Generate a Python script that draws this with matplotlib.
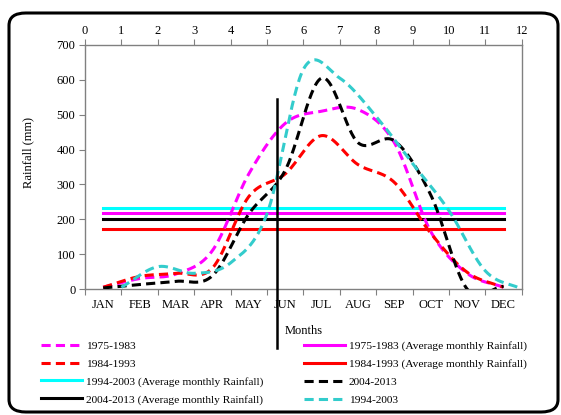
"""
plot.py -- monthly rainfall by decade, smoothed Excel-style lines.
"""

import numpy as np
import matplotlib
matplotlib.use("Agg")
import matplotlib.pyplot as plt
from matplotlib.patches import FancyBboxPatch
from matplotlib.lines import Line2D

plt.rcParams["font.family"] = ["Liberation Serif", "DejaVu Serif"]

# -----------------------------------------------------------------------------
# Data
# -----------------------------------------------------------------------------
months = ["JAN", "FEB", "MAR", "APR", "MAY", "JUN",
          "JUL", "AUG", "SEP", "OCT", "NOV", "DEC"]

rain_1975_1983 = [5, 30, 43, 110, 330, 475, 510, 515, 420, 165, 45, 5]
rain_1984_1993 = [5, 36, 45, 60, 265, 330, 440, 357, 306, 160, 48, 5]
rain_2004_2013 = [3, 13, 22, 38, 215, 340, 605, 420, 425, 270, 0, 8]

# 1994-2003 sits on the secondary (top) axis, at positions 1..12
teal_pos = [1, 2, 3, 4, 5, 6, 7, 8, 9, 10, 11, 12]
rain_1994_2003 = [5, 64, 45, 75, 215, 630, 605, 495, 360, 225, 52, 0]

avg_1975_1983 = 218
avg_1984_1993 = 173
avg_1994_2003 = 233
avg_2004_2013 = 201

divider_x = 5.28
divider_span = (-168, 545)

top_ticks = list(range(13))
y_ticks = [0, 100, 200, 300, 400, 500, 600, 700]

W, H, DPI = 561, 415, 100

MAGENTA = "#FF00FF"
RED = "#FF0000"
CYAN = "#00FFFF"
TEAL = "#33CCCC"
DASH = (0, (3, 1.7))


def smooth(x, y, n=30):
    """Catmull-Rom style smoothing, like Excel's 'smoothed line'."""
    x = np.asarray(x, float)
    y = np.asarray(y, float)
    m = np.empty_like(y)
    m[1:-1] = (y[2:] - y[:-2]) / 2
    m[0] = y[1] - y[0]
    m[-1] = y[-1] - y[-2]
    xs, ys = [], []
    t = np.linspace(0, 1, n)
    h00 = 2 * t**3 - 3 * t**2 + 1
    h10 = t**3 - 2 * t**2 + t
    h01 = -2 * t**3 + 3 * t**2
    h11 = t**3 - t**2
    for i in range(len(x) - 1):
        xs.append(x[i] + t * (x[i + 1] - x[i]))
        ys.append(h00 * y[i] + h10 * m[i] + h01 * y[i + 1] + h11 * m[i + 1])
    return np.concatenate(xs), np.concatenate(ys)


fig = plt.figure(figsize=(W / DPI, H / DPI), dpi=DPI)
ax = fig.add_axes([85 / W, 1 - 289 / H, 436.7 / W, 244 / H])

cat_x = np.arange(len(months)) + 0.5
lw = 2.2

for vals, col in [(rain_1975_1983, MAGENTA), (rain_1984_1993, RED),
                  (rain_2004_2013, "black")]:
    sx, sy = smooth(cat_x, vals)
    ax.plot(sx, sy, color=col, lw=lw, ls=DASH, zorder=3)

for val, col in [(avg_1994_2003, CYAN), (avg_1975_1983, MAGENTA),
                 (avg_2004_2013, "black"), (avg_1984_1993, RED)]:
    ax.plot([cat_x[0], cat_x[-1]], [val, val], color=col, lw=lw, zorder=2)

ax.set_xlim(0, 12)
ax.set_ylim(0, 700)
ax.set_xticks(np.arange(13))
ax.set_xticklabels([])
ax.set_xticks(cat_x, minor=True)
ax.set_xticklabels(months, minor=True)
ax.tick_params(axis="x", which="major", length=4, color="#808080", direction="out")
ax.tick_params(axis="x", which="minor", length=0, pad=7, labelsize=9)
ax.set_yticks(y_ticks)
ax.tick_params(axis="y", length=4, color="#808080", labelsize=9, pad=3)
ax.set_xlabel("Months", fontsize=9, labelpad=10)
ax.set_ylabel("Rainfall (mm)", fontsize=9)
ax.yaxis.set_label_coords(-0.117, 0.56)
for sp in ax.spines.values():
    sp.set_color("#808080")
    sp.set_linewidth(1.0)

# secondary x axis (top) carrying the 1994-2003 series
ax2 = ax.twiny()
ax2.set_xlim(0, 12)
ax2.set_ylim(0, 700)
ax2.set_xticks(top_ticks)
ax2.tick_params(axis="x", length=4, color="#808080", labelsize=9, pad=2)
for sp in ax2.spines.values():
    sp.set_visible(False)
sx, sy = smooth(teal_pos, rain_1994_2003)
ax2.plot(sx, sy, color=TEAL, lw=lw, ls=DASH, zorder=3)

ax2.plot([divider_x, divider_x], divider_span, color="black", lw=1.8,
         clip_on=False, zorder=5)

# legend, two columns placed like the Excel one
def handle(col, dashed):
    return Line2D([], [], color=col, lw=lw, ls=DASH if dashed else "-")

left_items = [(handle(MAGENTA, True), "1975-1983"),
              (handle(RED, True), "1984-1993"),
              (handle(CYAN, False), "1994-2003 (Average monthly Rainfall)"),
              (handle("black", False), "2004-2013 (Average monthly Rainfall)")]
right_items = [(handle(MAGENTA, False), "1975-1983 (Average monthly Rainfall)"),
               (handle(RED, False), "1984-1993 (Average monthly Rainfall)"),
               (handle("black", True), "2004-2013"),
               (handle(TEAL, True), "1994-2003")]

for items, x0 in [(left_items, 41), (right_items, 304)]:
    leg = fig.legend([h for h, _ in items], [t for _, t in items],
                     loc="upper left", bbox_to_anchor=(x0 / W, 1 - 341 / H),
                     frameon=False, fontsize=8.2, handlelength=3.6,
                     handletextpad=0.35, labelspacing=0.68,
                     borderaxespad=0, borderpad=0)

frame = FancyBboxPatch((9 / W, 3 / H), 549 / W, 399 / H,
                       boxstyle="round,pad=0,rounding_size=0.03",
                       transform=fig.transFigure, fill=False,
                       edgecolor="black", lw=2.2)
fig.patches.append(frame)

fig.savefig("out.png", dpi=DPI)
